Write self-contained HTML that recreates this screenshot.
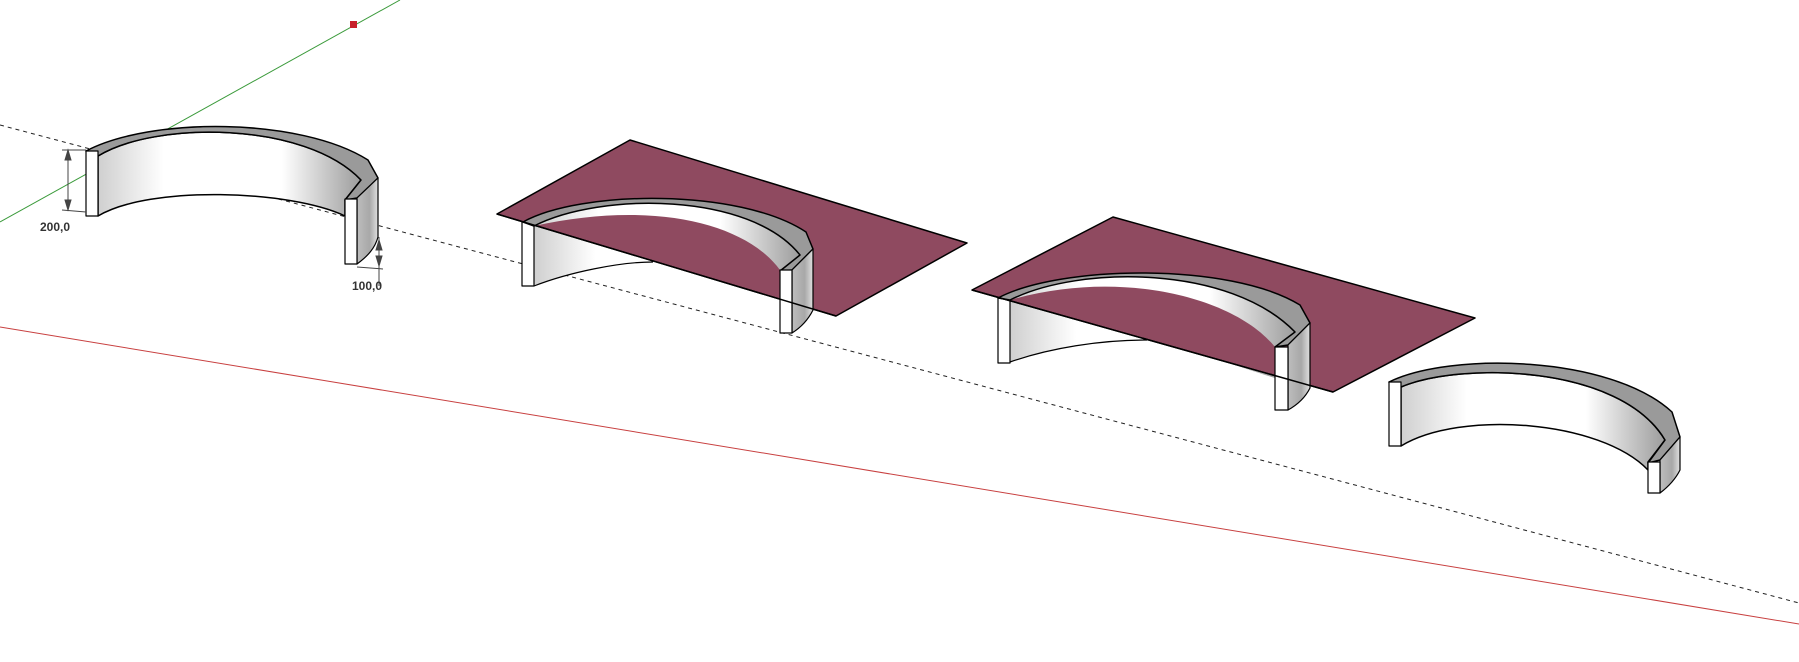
<!DOCTYPE html>
<html><head><meta charset="utf-8"><style>
html,body{margin:0;padding:0;background:#fff;}
svg{display:block;}
text{font-family:"Liberation Sans",sans-serif;font-size:12px;font-weight:bold;fill:#333;}
</style></head><body>
<svg width="1799" height="662" viewBox="0 0 1799 662" xmlns="http://www.w3.org/2000/svg">
<defs>
<linearGradient id="w" x1="0" y1="0" x2="1" y2="0">
<stop offset="0" stop-color="#cfcfcf"/><stop offset="0.25" stop-color="#fff"/><stop offset="0.7" stop-color="#fff"/><stop offset="1" stop-color="#9c9c9c"/>
</linearGradient>
<linearGradient id="s" x1="0" y1="0" x2="1" y2="0">
<stop offset="0" stop-color="#bdbdbd"/><stop offset="0.6" stop-color="#a8a8a8"/><stop offset="1" stop-color="#e0e0e0"/>
</linearGradient>
</defs>
<!-- axes -->
<line x1="0" y1="222" x2="400" y2="0" stroke="#3a9a3a" stroke-width="1"/>
<rect x="350" y="21" width="7" height="7" fill="#c8202a"/>
<line x1="0" y1="327" x2="1799" y2="624" stroke="#c84040" stroke-width="1"/>
<line x1="0" y1="125" x2="1799" y2="603" stroke="#222" stroke-width="1" stroke-dasharray="4,4"/>

<g stroke="#000" stroke-linejoin="round">
<!-- Object 1 -->
<path d="M98,156 C155,121 305,121 361,180 L345,200 L345,216 C290,190 150,185 98,216 Z" fill="url(#w)" stroke-width="1.5"/>
<path d="M86,151 C150,117 300,117 368,160 L378,178 L357,198 L345,200 L361,180 C305,121 155,121 98,156 Z" fill="#9a9a9a" stroke-width="1.5"/>
<rect x="86" y="151" width="12" height="65" fill="#fff" stroke-width="1.2"/>
<path d="M357,198 L378,178 L378,237 C375,248 368,256 357,264 Z" fill="url(#s)" stroke-width="1.2"/>
<rect x="345" y="199" width="12" height="65" fill="#fff" stroke-width="1.2"/>

<!-- Object 2 -->
<path d="M534,226 C600,210 700,215 780,265 L780,300 C720,280 680,262 653,262 C600,266 560,275 534,286 Z" fill="url(#w)" stroke="none"/>
<path d="M534,286 C570,272 620,262 653,262" fill="none" stroke-width="1.2"/>
<rect x="522" y="221" width="12" height="65" fill="#fff" stroke-width="1.2"/>
<path d="M630,140 L967,243 L836,316 L497,214 Z" fill="#8f4a60" stroke-width="1.5"/>
<path d="M534,226 C600,192 750,192 800,255 L780,270 C745,222 650,200 534,226 Z" fill="url(#w)" stroke="none"/>
<path d="M523,222 C580,190 740,188 806,232 L813,249 L792,270 L780,271 L800,255 C750,192 600,192 534,226 Z" fill="#9a9a9a" stroke-width="1.5"/>
<path d="M792,270 L813,249 L813,310 C808,320 800,328 792,333 Z" fill="url(#s)" stroke-width="1.2"/>
<rect x="780" y="270" width="12" height="63" fill="#fff" stroke-width="1.2"/>
<line x1="497" y1="214" x2="836" y2="316" stroke-width="1.5"/>

<!-- Object 3 -->
<path d="M1010,300 C1080,290 1200,300 1275,345 L1275,378 C1200,355 1170,340 1147,340 C1090,342 1040,350 1010,362 Z" fill="url(#w)" stroke="none"/>
<path d="M1010,362 C1050,348 1100,340 1147,340" fill="none" stroke-width="1.2"/>
<rect x="998" y="297" width="12" height="66" fill="#fff" stroke-width="1.2"/>
<path d="M1113,217 L1475,318 L1333,392 L972,290 Z" fill="#8f4a60" stroke-width="1.5"/>
<path d="M1010,300 C1080,265 1230,265 1295,332 L1275,347 C1235,297 1120,268 1010,300 Z" fill="url(#w)" stroke="none"/>
<path d="M998,298 C1060,265 1230,262 1300,305 L1310,323 L1288,345 L1275,347 L1295,332 C1230,265 1080,265 1010,300 Z" fill="#9a9a9a" stroke-width="1.5"/>
<path d="M1288,345 L1310,323 L1310,388 C1305,398 1297,405 1288,410 Z" fill="url(#s)" stroke-width="1.2"/>
<rect x="1275" y="347" width="13" height="63" fill="#fff" stroke-width="1.2"/>
<line x1="972" y1="290" x2="1333" y2="392" stroke-width="1.5"/>

<!-- Object 4 -->
<path d="M1401,387 C1460,362 1620,364 1665,440 L1648,462 L1648,470 C1600,420 1460,410 1401,446 Z" fill="url(#w)" stroke-width="1.5"/>
<path d="M1389,382 C1450,352 1610,355 1672,412 L1680,437 L1660,460 L1648,463 L1665,440 C1620,364 1460,362 1401,387 Z" fill="#9a9a9a" stroke-width="1.5"/>
<rect x="1389" y="382" width="12" height="64" fill="#fff" stroke-width="1.2"/>
<path d="M1660,460 L1680,437 L1680,470 C1675,480 1668,487 1660,493 Z" fill="url(#s)" stroke-width="1.2"/>
<rect x="1648" y="462" width="12" height="31" fill="#fff" stroke-width="1.2"/>
</g>

<!-- dimensions -->
<g stroke="#444" stroke-width="1" fill="#444">
<line x1="62" y1="150" x2="86" y2="150"/>
<line x1="62" y1="210" x2="86" y2="212"/>
<line x1="68" y1="150" x2="68" y2="210"/>
<path d="M68,150 L65,160 L71,160 Z"/>
<path d="M68,210 L65,200 L71,200 Z"/>
<line x1="357" y1="267" x2="383" y2="269"/>
<line x1="379" y1="237" x2="379" y2="286"/>
<path d="M379,240 L376,250 L382,250 Z"/>
<path d="M379,266 L376,256 L382,256 Z"/>
</g>
<text x="40" y="231">200,0</text>
<text x="352" y="290">100,0</text>
</svg>
</body></html>
